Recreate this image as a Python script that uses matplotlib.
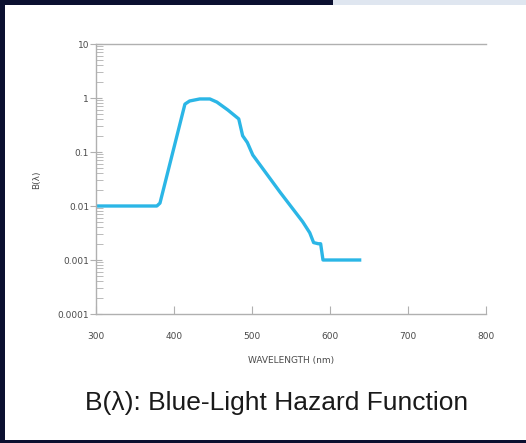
import numpy as np
import matplotlib
matplotlib.use("Agg")
import matplotlib.pyplot as plt
from matplotlib.patches import Rectangle
from matplotlib.ticker import LogLocator, FixedLocator, FixedFormatter

# values (wavelength nm, B(lambda))
wavelength = [300, 378, 382, 414, 420, 433, 446, 455, 469, 483, 488, 494,
              501, 536, 565, 574, 579, 585, 588, 591, 638]
hazard = [0.01, 0.01, 0.0113, 0.77, 0.88, 0.96, 0.96, 0.84, 0.6, 0.41, 0.2, 0.15,
          0.088, 0.018, 0.0051, 0.0032, 0.0021, 0.002, 0.002, 0.001, 0.001]

y_ticks = [0.0001, 0.001, 0.01, 0.1, 1, 10]
y_labels = ["0.0001", "0.001", "0.01", "0.1", "1", "10"]
x_ticks = [300, 400, 500, 600, 700, 800]

navy = "#0b1030"
tick_col = "#4a4a4a"
spine_col = "#b0b0b0"

fig = plt.figure(figsize=(5.26, 4.43), dpi=100, facecolor=navy)
# white slide area and the strip at top right
fig.patches.append(Rectangle((5 / 526, 3 / 443), 521 / 526, 435 / 443,
                             transform=fig.transFigure, facecolor="white",
                             edgecolor="none", zorder=-10))
fig.patches.append(Rectangle((333 / 526, 438 / 443), 193 / 526, 5 / 443,
                             transform=fig.transFigure, facecolor="#dfe6f0",
                             edgecolor="none", zorder=-10))

ax = fig.add_axes([96 / 526, 1 - 314 / 443, 390 / 526, 270 / 443])
ax.set_facecolor("white")
ax.plot(wavelength, hazard, color="#2bb6e6", linewidth=2.4, solid_joinstyle="round")

ax.set_yscale("log")
ax.set_xlim(300, 800)
ax.set_ylim(0.0001, 10)
ax.yaxis.set_major_locator(FixedLocator(y_ticks))
ax.yaxis.set_major_formatter(FixedFormatter(y_labels))
ax.yaxis.set_minor_locator(LogLocator(base=10, subs=np.arange(2, 10)))
ax.yaxis.set_minor_formatter(plt.NullFormatter())
ax.set_xticks(x_ticks)

for s in ["left", "bottom", "top"]:
    ax.spines[s].set_color(spine_col)
    ax.spines[s].set_linewidth(1.0)
ax.spines["right"].set_visible(False)

ax.tick_params(axis="y", which="major", direction="inout", length=8, width=0.8,
               color=spine_col, labelsize=6.5, labelcolor=tick_col, pad=1)
ax.tick_params(axis="y", which="minor", direction="in", length=5, width=0.6,
               color=spine_col)
ax.tick_params(axis="x", which="major", direction="in", length=6, width=0.8,
               color=spine_col, labelsize=6.5, labelcolor=tick_col, pad=13)

ax.set_xlabel("WAVELENGTH (nm)", fontsize=6.5, color=tick_col, labelpad=11)
fig.text(37 / 526, 1 - 180 / 443, "B(\u03bb)", rotation=90, fontsize=6.5,
         color=tick_col, ha="center", va="center")

fig.text(277 / 526, 1 - 403 / 443, "B(\u03bb): Blue-Light Hazard Function",
         fontsize=19, family="Liberation Sans", color="#1a1a1a",
         ha="center", va="center")

fig.savefig("out.png", dpi=100, facecolor=navy)
